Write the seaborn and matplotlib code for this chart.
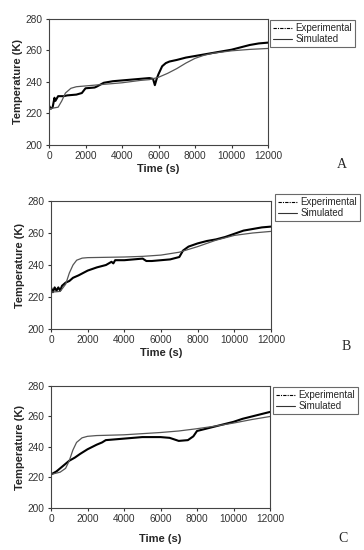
import pandas as pd
import matplotlib
matplotlib.use("Agg")
import matplotlib.pyplot as plt
import seaborn as sns

sns.set_style("ticks")
plt.rcParams['font.family'] = ['Liberation Sans', 'DejaVu Sans']

# panel A
time_exp_a = [0, 100, 200, 300, 350, 500, 800, 1000, 1500, 1800, 2000, 2500, 2600, 3000, 3500, 4000, 4500,
              5000, 5500, 5700, 5800, 5900, 6000, 6200, 6400, 6600, 7000, 7500, 8000, 8500, 9000, 9500,
              10000, 10500, 11000, 11500, 12000]
temp_exp_a = [225, 223, 224, 230, 228, 231, 231, 231.5, 232, 233, 236, 236.5, 237, 239.5, 240.5, 241, 241.5,
              242, 242.5, 242, 238, 242, 245, 250, 252, 253, 254, 255.5, 256.5, 257.5, 258.5, 259.5,
              260.5, 262, 263.5, 264.5, 265]
time_sim_a = [0, 500, 700, 900, 1200, 1500, 2000, 3000, 4000, 5000, 5500, 6000, 6500, 7000, 7500, 8000,
              8500, 9000, 10000, 11000, 12000]
temp_sim_a = [223, 224, 228, 233, 236, 237, 237.5, 238.5, 239.5, 241, 241.5, 243, 245.5, 248.5, 252, 255,
              257, 258.3, 259.8, 260.7, 261.3]

# panel B
time_exp_b = [0, 100, 200, 300, 400, 500, 600, 800, 1000, 1200, 1500, 2000, 2500, 3000, 3300, 3400, 3500,
              4000, 4500, 5000, 5200, 5500, 6000, 6500, 7000, 7200, 7500, 8000, 8500, 9000, 9500, 10000,
              10500, 11000, 11500, 12000]
temp_exp_b = [226, 223, 226, 224, 226, 224, 227, 229, 230, 232, 233.5, 236.5, 238.5, 240, 242, 241, 243,
              243, 243.5, 244, 242.5, 242.5, 243, 243.5, 245, 249, 251.5, 253.5, 255, 256, 257.5, 259.5,
              261.5, 262.5, 263.5, 264]
time_sim_b = [0, 500, 800, 1000, 1200, 1400, 1700, 2000, 3000, 4000, 5000, 6000, 7000, 8000, 9000, 10000,
              11000, 12000]
temp_sim_b = [223, 223.5, 228, 235, 240, 243, 244.3, 244.6, 244.8, 245, 245.4, 246.2, 248, 251.5, 255.5,
              258.5, 260, 261]

# panel C
time_exp_c = [0, 300, 600, 800, 1000, 1300, 1600, 2000, 2500, 2800, 3000, 3500, 4000, 4500, 5000, 5500,
              6000, 6500, 7000, 7500, 7800, 8000, 8500, 9000, 9500, 10000, 10500, 11000, 11500, 12000]
temp_exp_c = [222, 224, 227, 229, 231, 233, 235.5, 238.5, 241.5, 243, 244.5, 245, 245.5, 246, 246.5, 246.5,
              246.5, 246, 244, 244.5, 247, 250.5, 252, 253.5, 255, 256.5, 258.5, 260, 261.5, 263]
time_sim_c = [0, 500, 800, 1000, 1200, 1400, 1700, 2000, 2500, 4000, 6000, 7000, 8000, 9000, 10000, 11000,
              12000]
temp_sim_c = [222, 223.5, 226, 231, 238, 243, 246, 247, 247.5, 248, 249.5, 250.5, 252, 253.7, 255.7, 258,
              260]

panels = [
    ("A", time_exp_a, temp_exp_a, time_sim_a, temp_sim_a),
    ("B", time_exp_b, temp_exp_b, time_sim_b, temp_sim_b),
    ("C", time_exp_c, temp_exp_c, time_sim_c, temp_sim_c),
]

# axes boxes in pixels: left, top, right, bottom ; legend top-left ; letter pos ; xlabel pad
W, H = 364, 550
boxes = [(49, 19, 268, 145), (51, 201, 271, 329), (51, 386, 270, 508)]
legpos = [(270, 20), (275, 194), (273, 387)]
letters = [(342, 165), (346, 347), (343, 539)]
labelpads = [2, 2, 7]

fig = plt.figure(figsize=(W / 100, H / 100), dpi=100)

for (name, te, ye, ts, ys), (l, t, r, b), (lx, ly), (tx, ty), lp in zip(panels, boxes, legpos, letters, labelpads):
    ax = fig.add_axes([l / W, 1 - b / H, (r - l) / W, (b - t) / H])
    exp = pd.DataFrame({"t": te, "T": ye})
    sim = pd.DataFrame({"t": ts, "T": ys})
    sns.lineplot(data=exp, x="t", y="T", ax=ax, color="black", lw=1.5, label="Experimental")
    sns.lineplot(data=sim, x="t", y="T", ax=ax, color="#555555", lw=0.9, label="Simulated")
    ax.set_xlim(0, 12000)
    ax.set_ylim(200, 280)
    ax.set_xticks(range(0, 12001, 2000))
    ax.set_yticks(range(200, 281, 20))
    ax.tick_params(labelsize=7.3, length=2.5, width=0.8, pad=2, colors="#333333")
    for s in ax.spines.values():
        s.set_linewidth(0.8)
        s.set_color("#444444")
    ax.set_xlabel("Time (s)", fontsize=8, fontweight="bold", labelpad=lp)
    ax.set_ylabel("Temperature (K)", fontsize=8, fontweight="bold", labelpad=2)
    handles, labels = ax.get_legend_handles_labels()
    h_exp = plt.Line2D([], [], color="black", lw=0.8, linestyle=(0, (3, 1, 1, 1)))
    h_sim = plt.Line2D([], [], color="#333333", lw=0.8)
    leg = ax.legend([h_exp, h_sim], labels, loc="upper left", bbox_to_anchor=(lx / W, 1 - ly / H),
                    bbox_transform=fig.transFigure, borderaxespad=0, fontsize=7, frameon=True,
                    fancybox=False, handlelength=2.0, handletextpad=0.3, labelspacing=0.15,
                    borderpad=0.3)
    leg.get_frame().set_edgecolor("#444444")
    leg.get_frame().set_linewidth(0.8)
    fig.text(tx / W, 1 - ty / H, name, family="Liberation Serif", fontsize=10, ha="center", va="center")

fig.savefig("out.png", dpi=100)
